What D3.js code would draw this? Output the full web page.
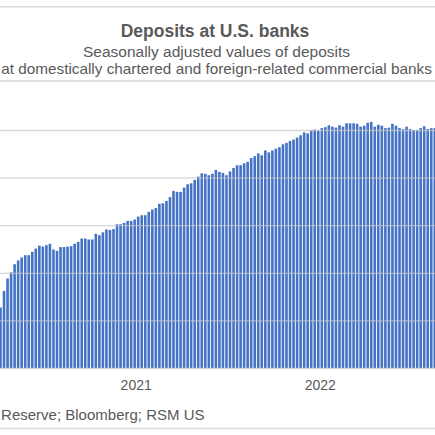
<!DOCTYPE html>
<html>
<head>
<meta charset="utf-8">
<script src="https://cdn.jsdelivr.net/npm/d3@7"></script>
<style>
  body { margin: 0; background: #fff; }
  svg { display: block; font-family: "Liberation Sans", Arial, sans-serif; }
</style>
</head>
<body>
<div id="chart"></div>
<script>
const width = 435;
const height = 435;

// weekly H.8 readings, trillions of dollars (first visible week onward)
const firstWeek = "2020-04-08";
const deposits = [
  14.27, 14.62, 14.88, 15.01, 15.18, 15.26, 15.32, 15.37, 15.37, 15.44,
  15.51, 15.57, 15.55, 15.58, 15.61, 15.49, 15.46, 15.54, 15.54, 15.55,
  15.56, 15.61, 15.65, 15.72, 15.72, 15.70, 15.70, 15.82, 15.79, 15.85,
  15.91, 15.90, 15.92, 16.02, 16.02, 16.05, 16.09, 16.09, 16.12, 16.18,
  16.21, 16.21, 16.28, 16.33, 16.36, 16.45, 16.46, 16.51, 16.59, 16.72,
  16.70, 16.70, 16.79, 16.86, 16.88, 16.95, 17.02, 17.09, 17.08, 17.05,
  17.08, 17.16, 17.12, 17.10, 17.05, 17.13, 17.20, 17.26, 17.26, 17.30,
  17.33, 17.41, 17.45, 17.51, 17.47, 17.57, 17.53, 17.57, 17.61, 17.64,
  17.70, 17.73, 17.77, 17.80, 17.84, 17.89, 17.95, 17.93, 17.99, 18.01,
  17.99, 18.04, 18.06, 18.10, 18.07, 18.05, 18.10, 18.07, 18.14, 18.14,
  18.14, 18.13, 18.07, 18.09, 18.15, 18.17, 18.07, 18.11, 18.09, 18.04,
  18.05, 18.13, 18.09, 18.04, 18.02, 18.07, 18.02, 18.00, 18.00, 18.04,
  18.08, 18.02, 18.04, 18.04,
];
const gridValues = [13, 14, 15, 16, 17, 18];
const yearTicks = ["2021-01-01", "2022-01-01"];

const title = "Deposits at U.S. banks";
const subtitle = [
  "Seasonally adjusted values of deposits",
  "at domestically chartered and foreign-related commercial banks",
];
const source = "Reserve; Bloomberg; RSM US";

const textColor = "#595959";
const ruleColor = "#d9d9d9";
const barColor = "#4472c4";

const start = new Date(firstWeek + "T00:00:00Z");
const data = deposits.map((v, i) => ({ date: d3.utcDay.offset(start, 7 * i), value: v }));

const x = d3
  .scaleUtc()
  .domain([data[0].date, data[data.length - 1].date])
  .range([0.5, 434.8]);

const y = d3.scaleLinear().domain([13, 18]).range([368, 130]);

const barWidth = 2.6;

const svg = d3
  .select("#chart")
  .append("svg")
  .attr("width", width)
  .attr("height", height);

svg.append("rect").attr("width", width).attr("height", height).attr("fill", "#fff");

// frame rules
[6.7, 81, 428.5].forEach((ry) => {
  svg
    .append("line")
    .attr("x1", 0)
    .attr("x2", width)
    .attr("y1", ry)
    .attr("y2", ry)
    .attr("stroke", ruleColor)
    .attr("stroke-width", 1.5);
});

svg
  .append("text")
  .attr("x", 215)
  .attr("y", 37)
  .attr("text-anchor", "middle")
  .attr("font-size", 17.5)
  .attr("font-weight", "bold")
  .attr("fill", textColor)
  .text(title);

svg
  .selectAll("text.sub")
  .data(subtitle)
  .enter()
  .append("text")
  .attr("class", "sub")
  .attr("x", 216.5)
  .attr("y", (d, i) => 56.5 + i * 17.8)
  .attr("text-anchor", "middle")
  .attr("font-size", 15.5)
  .attr("fill", textColor)
  .text((d) => d)
  .each(function () {
    // the long line runs to the frame edges, keep it just inside
    const w = this.getComputedTextLength();
    if (w > 431) d3.select(this).attr("font-size", (15.5 * 431) / w);
  });

// bars
svg
  .append("g")
  .selectAll("rect")
  .data(data)
  .enter()
  .append("rect")
  .attr("x", (d) => x(d.date) - barWidth / 2)
  .attr("y", (d) => y(d.value))
  .attr("width", barWidth)
  .attr("height", (d) => y(13) - y(d.value))
  .attr("fill", barColor);

// gridlines sit over the bars, faintly
const grid = svg
  .append("g")
  .call(d3.axisLeft(y).tickValues(gridValues).tickSize(-width).tickFormat(""));
grid.select(".domain").remove();
grid
  .selectAll(".tick line")
  .attr("stroke", "#c8c8c8")
  .attr("stroke-opacity", 0.7)
  .attr("stroke-width", 1.3);

const xAxis = svg
  .append("g")
  .attr("transform", `translate(0,${y(13)})`)
  .call(
    d3
      .axisBottom(x)
      .tickValues(yearTicks.map((t) => new Date(t + "T00:00:00Z")))
      .tickFormat(d3.utcFormat("%Y"))
      .tickSize(0)
      .tickPadding(12)
  );
xAxis.select(".domain").remove();
xAxis
  .selectAll("text")
  .attr("font-size", 14)
  .attr("font-family", "Liberation Sans, Arial, sans-serif")
  .attr("fill", textColor);

svg
  .append("text")
  .attr("x", 204.5)
  .attr("y", 419.5)
  .attr("text-anchor", "end")
  .attr("font-size", 15)
  .attr("fill", textColor)
  .text(source);
</script>
</body>
</html>
